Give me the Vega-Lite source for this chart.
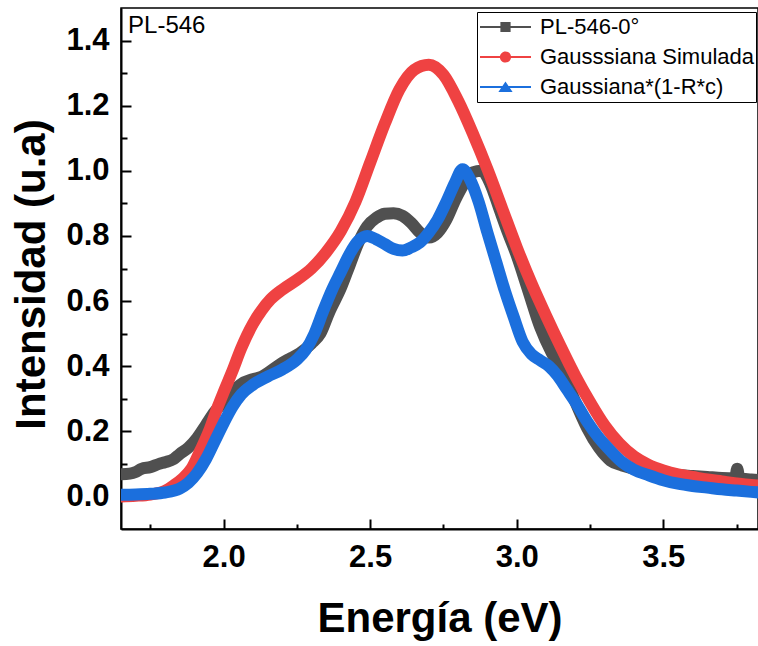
{
  "$schema": "https://vega.github.io/schema/vega-lite/v6.json",
  "autosize": {"type": "none"},
  "padding": {"left": 121, "top": 8, "right": 0, "bottom": 117},
  "width": 637,
  "height": 521,
  "background": "white",
  "config": {
    "view": {"stroke": "black", "strokeWidth": 1.5},
    "font": "Liberation Sans",
    "axis": {"grid": false, "domainColor": "black", "domainWidth": 2, "tickColor": "black", "tickWidth": 2, "zindex": 1},
    "legend": {
      "orient": "none", "legendX": 356, "legendY": 4, "direction": "vertical", "title": null,
      "labelFont": "Liberation Sans", "labelFontSize": 22, "labelColor": "black", "labelLimit": 400,
      "symbolSize": 2600, "clipHeight": 28, "padding": 1, "strokeColor": "black", "fillColor": "white",
      "symbolStrokeWidth": 0, "symbolOffset": 2, "labelOffset": 9
    }
  },
  "data": {"values": [
    {"s":"PL-546-0°","E":1.65,"I":0.068},{"s":"PL-546-0°","E":1.68,"I":0.07},{"s":"PL-546-0°","E":1.70,"I":0.075},{"s":"PL-546-0°","E":1.72,"I":0.085},{"s":"PL-546-0°","E":1.75,"I":0.09},{"s":"PL-546-0°","E":1.78,"I":0.10},{"s":"PL-546-0°","E":1.80,"I":0.105},{"s":"PL-546-0°","E":1.83,"I":0.115},{"s":"PL-546-0°","E":1.85,"I":0.13},{"s":"PL-546-0°","E":1.88,"I":0.15},{"s":"PL-546-0°","E":1.91,"I":0.18},{"s":"PL-546-0°","E":1.94,"I":0.22},{"s":"PL-546-0°","E":1.97,"I":0.26},{"s":"PL-546-0°","E":2.00,"I":0.29},{"s":"PL-546-0°","E":2.03,"I":0.32},{"s":"PL-546-0°","E":2.06,"I":0.345},{"s":"PL-546-0°","E":2.10,"I":0.36},{"s":"PL-546-0°","E":2.13,"I":0.368},{"s":"PL-546-0°","E":2.16,"I":0.385},{"s":"PL-546-0°","E":2.20,"I":0.41},{"s":"PL-546-0°","E":2.23,"I":0.425},{"s":"PL-546-0°","E":2.26,"I":0.44},{"s":"PL-546-0°","E":2.30,"I":0.47},{"s":"PL-546-0°","E":2.33,"I":0.50},{"s":"PL-546-0°","E":2.36,"I":0.565},{"s":"PL-546-0°","E":2.40,"I":0.64},{"s":"PL-546-0°","E":2.43,"I":0.71},{"s":"PL-546-0°","E":2.46,"I":0.78},{"s":"PL-546-0°","E":2.49,"I":0.83},{"s":"PL-546-0°","E":2.52,"I":0.855},{"s":"PL-546-0°","E":2.55,"I":0.868},{"s":"PL-546-0°","E":2.58,"I":0.87},{"s":"PL-546-0°","E":2.61,"I":0.862},{"s":"PL-546-0°","E":2.64,"I":0.84},{"s":"PL-546-0°","E":2.67,"I":0.81},{"s":"PL-546-0°","E":2.70,"I":0.795},{"s":"PL-546-0°","E":2.73,"I":0.81},{"s":"PL-546-0°","E":2.76,"I":0.85},{"s":"PL-546-0°","E":2.79,"I":0.91},{"s":"PL-546-0°","E":2.82,"I":0.96},{"s":"PL-546-0°","E":2.85,"I":0.995},{"s":"PL-546-0°","E":2.88,"I":1.0},{"s":"PL-546-0°","E":2.91,"I":0.96},{"s":"PL-546-0°","E":2.94,"I":0.885},{"s":"PL-546-0°","E":2.97,"I":0.81},{"s":"PL-546-0°","E":3.00,"I":0.74},{"s":"PL-546-0°","E":3.04,"I":0.63},{"s":"PL-546-0°","E":3.08,"I":0.52},{"s":"PL-546-0°","E":3.12,"I":0.44},{"s":"PL-546-0°","E":3.16,"I":0.38},{"s":"PL-546-0°","E":3.20,"I":0.29},{"s":"PL-546-0°","E":3.24,"I":0.21},{"s":"PL-546-0°","E":3.28,"I":0.15},{"s":"PL-546-0°","E":3.32,"I":0.11},{"s":"PL-546-0°","E":3.36,"I":0.095},{"s":"PL-546-0°","E":3.40,"I":0.085},{"s":"PL-546-0°","E":3.45,"I":0.075},{"s":"PL-546-0°","E":3.50,"I":0.07},{"s":"PL-546-0°","E":3.55,"I":0.066},{"s":"PL-546-0°","E":3.60,"I":0.063},{"s":"PL-546-0°","E":3.65,"I":0.06},{"s":"PL-546-0°","E":3.70,"I":0.057},{"s":"PL-546-0°","E":3.745,"I":0.056},{"s":"PL-546-0°","E":3.752,"I":0.085},{"s":"PL-546-0°","E":3.76,"I":0.055},{"s":"PL-546-0°","E":3.80,"I":0.052},{"s":"PL-546-0°","E":3.83,"I":0.05},

    {"s":"Gausssiana Simulada","E":1.65,"I":0.0},{"s":"Gausssiana Simulada","E":1.70,"I":0.002},{"s":"Gausssiana Simulada","E":1.75,"I":0.006},{"s":"Gausssiana Simulada","E":1.80,"I":0.017},{"s":"Gausssiana Simulada","E":1.83,"I":0.034},{"s":"Gausssiana Simulada","E":1.86,"I":0.055},{"s":"Gausssiana Simulada","E":1.89,"I":0.085},{"s":"Gausssiana Simulada","E":1.92,"I":0.14},{"s":"Gausssiana Simulada","E":1.95,"I":0.20},{"s":"Gausssiana Simulada","E":1.98,"I":0.275},{"s":"Gausssiana Simulada","E":2.00,"I":0.32},{"s":"Gausssiana Simulada","E":2.03,"I":0.385},{"s":"Gausssiana Simulada","E":2.06,"I":0.455},{"s":"Gausssiana Simulada","E":2.10,"I":0.53},{"s":"Gausssiana Simulada","E":2.13,"I":0.572},{"s":"Gausssiana Simulada","E":2.16,"I":0.605},{"s":"Gausssiana Simulada","E":2.20,"I":0.635},{"s":"Gausssiana Simulada","E":2.25,"I":0.665},{"s":"Gausssiana Simulada","E":2.30,"I":0.70},{"s":"Gausssiana Simulada","E":2.35,"I":0.75},{"s":"Gausssiana Simulada","E":2.40,"I":0.815},{"s":"Gausssiana Simulada","E":2.45,"I":0.905},{"s":"Gausssiana Simulada","E":2.50,"I":1.025},{"s":"Gausssiana Simulada","E":2.55,"I":1.145},{"s":"Gausssiana Simulada","E":2.60,"I":1.25},{"s":"Gausssiana Simulada","E":2.65,"I":1.31},{"s":"Gausssiana Simulada","E":2.70,"I":1.326},{"s":"Gausssiana Simulada","E":2.75,"I":1.295},{"s":"Gausssiana Simulada","E":2.80,"I":1.215},{"s":"Gausssiana Simulada","E":2.85,"I":1.115},{"s":"Gausssiana Simulada","E":2.90,"I":1.005},{"s":"Gausssiana Simulada","E":2.95,"I":0.885},{"s":"Gausssiana Simulada","E":3.00,"I":0.765},{"s":"Gausssiana Simulada","E":3.05,"I":0.655},{"s":"Gausssiana Simulada","E":3.10,"I":0.555},{"s":"Gausssiana Simulada","E":3.15,"I":0.46},{"s":"Gausssiana Simulada","E":3.20,"I":0.37},{"s":"Gausssiana Simulada","E":3.25,"I":0.29},{"s":"Gausssiana Simulada","E":3.30,"I":0.218},{"s":"Gausssiana Simulada","E":3.35,"I":0.163},{"s":"Gausssiana Simulada","E":3.40,"I":0.123},{"s":"Gausssiana Simulada","E":3.45,"I":0.097},{"s":"Gausssiana Simulada","E":3.50,"I":0.08},{"s":"Gausssiana Simulada","E":3.55,"I":0.068},{"s":"Gausssiana Simulada","E":3.60,"I":0.06},{"s":"Gausssiana Simulada","E":3.65,"I":0.052},{"s":"Gausssiana Simulada","E":3.70,"I":0.046},{"s":"Gausssiana Simulada","E":3.75,"I":0.04},{"s":"Gausssiana Simulada","E":3.80,"I":0.035},{"s":"Gausssiana Simulada","E":3.83,"I":0.033},

    {"s":"Gaussiana*(1-R*c)","E":1.65,"I":0.005},{"s":"Gaussiana*(1-R*c)","E":1.70,"I":0.006},{"s":"Gaussiana*(1-R*c)","E":1.75,"I":0.008},{"s":"Gaussiana*(1-R*c)","E":1.80,"I":0.012},{"s":"Gaussiana*(1-R*c)","E":1.85,"I":0.024},{"s":"Gaussiana*(1-R*c)","E":1.88,"I":0.042},{"s":"Gaussiana*(1-R*c)","E":1.91,"I":0.072},{"s":"Gaussiana*(1-R*c)","E":1.94,"I":0.115},{"s":"Gaussiana*(1-R*c)","E":1.97,"I":0.17},{"s":"Gaussiana*(1-R*c)","E":2.00,"I":0.225},{"s":"Gaussiana*(1-R*c)","E":2.03,"I":0.275},{"s":"Gaussiana*(1-R*c)","E":2.06,"I":0.313},{"s":"Gaussiana*(1-R*c)","E":2.10,"I":0.343},{"s":"Gaussiana*(1-R*c)","E":2.15,"I":0.368},{"s":"Gaussiana*(1-R*c)","E":2.20,"I":0.39},{"s":"Gaussiana*(1-R*c)","E":2.25,"I":0.42},{"s":"Gaussiana*(1-R*c)","E":2.28,"I":0.45},{"s":"Gaussiana*(1-R*c)","E":2.31,"I":0.50},{"s":"Gaussiana*(1-R*c)","E":2.34,"I":0.57},{"s":"Gaussiana*(1-R*c)","E":2.37,"I":0.635},{"s":"Gaussiana*(1-R*c)","E":2.40,"I":0.69},{"s":"Gaussiana*(1-R*c)","E":2.43,"I":0.745},{"s":"Gaussiana*(1-R*c)","E":2.46,"I":0.785},{"s":"Gaussiana*(1-R*c)","E":2.49,"I":0.80},{"s":"Gaussiana*(1-R*c)","E":2.52,"I":0.79},{"s":"Gaussiana*(1-R*c)","E":2.55,"I":0.775},{"s":"Gaussiana*(1-R*c)","E":2.58,"I":0.76},{"s":"Gaussiana*(1-R*c)","E":2.61,"I":0.755},{"s":"Gaussiana*(1-R*c)","E":2.64,"I":0.765},{"s":"Gaussiana*(1-R*c)","E":2.67,"I":0.78},{"s":"Gaussiana*(1-R*c)","E":2.70,"I":0.81},{"s":"Gaussiana*(1-R*c)","E":2.73,"I":0.85},{"s":"Gaussiana*(1-R*c)","E":2.76,"I":0.905},{"s":"Gaussiana*(1-R*c)","E":2.79,"I":0.965},{"s":"Gaussiana*(1-R*c)","E":2.815,"I":1.005},{"s":"Gaussiana*(1-R*c)","E":2.84,"I":0.975},{"s":"Gaussiana*(1-R*c)","E":2.87,"I":0.905},{"s":"Gaussiana*(1-R*c)","E":2.90,"I":0.81},{"s":"Gaussiana*(1-R*c)","E":2.93,"I":0.72},{"s":"Gaussiana*(1-R*c)","E":2.96,"I":0.63},{"s":"Gaussiana*(1-R*c)","E":2.99,"I":0.55},{"s":"Gaussiana*(1-R*c)","E":3.02,"I":0.475},{"s":"Gaussiana*(1-R*c)","E":3.05,"I":0.437},{"s":"Gaussiana*(1-R*c)","E":3.08,"I":0.418},{"s":"Gaussiana*(1-R*c)","E":3.11,"I":0.40},{"s":"Gaussiana*(1-R*c)","E":3.14,"I":0.37},{"s":"Gaussiana*(1-R*c)","E":3.17,"I":0.33},{"s":"Gaussiana*(1-R*c)","E":3.20,"I":0.29},{"s":"Gaussiana*(1-R*c)","E":3.24,"I":0.23},{"s":"Gaussiana*(1-R*c)","E":3.28,"I":0.18},{"s":"Gaussiana*(1-R*c)","E":3.32,"I":0.14},{"s":"Gaussiana*(1-R*c)","E":3.36,"I":0.105},{"s":"Gaussiana*(1-R*c)","E":3.40,"I":0.082},{"s":"Gaussiana*(1-R*c)","E":3.45,"I":0.065},{"s":"Gaussiana*(1-R*c)","E":3.50,"I":0.05},{"s":"Gaussiana*(1-R*c)","E":3.55,"I":0.039},{"s":"Gaussiana*(1-R*c)","E":3.60,"I":0.032},{"s":"Gaussiana*(1-R*c)","E":3.65,"I":0.027},{"s":"Gaussiana*(1-R*c)","E":3.70,"I":0.022},{"s":"Gaussiana*(1-R*c)","E":3.75,"I":0.018},{"s":"Gaussiana*(1-R*c)","E":3.80,"I":0.014},{"s":"Gaussiana*(1-R*c)","E":3.83,"I":0.012}
  ]},
  "resolve": {"axis": {"x": "independent", "y": "independent"}},
  "layer": [
    {
      "transform": [{"filter": {"field": "s", "equal": "PL-546-0°"}}],
      "mark": {"type": "line", "color": "#505050", "strokeWidth": 12, "strokeJoin": "round", "strokeCap": "round", "interpolate": "monotone", "clip": true},
      "encoding": {
        "x": {"field": "E", "type": "quantitative", "scale": {"domain": [1.65, 3.823], "nice": false, "zero": false},
          "axis": {"orient": "bottom", "title": "Energía (eV)", "values": [2.0, 2.5, 3.0, 3.5], "format": ".1f",
            "labelFont": "Liberation Sans", "labelFontSize": 31, "labelFontWeight": "bold", "labelColor": "black",
            "tickSize": -10, "labelPadding": 23, "labelFlush": false,
            "titleFont": "Liberation Sans", "titleFontSize": 42, "titleFontWeight": "bold", "titleColor": "black", "titlePadding": 26}},
        "y": {"field": "I", "type": "quantitative", "scale": {"domain": [-0.1, 1.5], "nice": false, "zero": false},
          "axis": {"orient": "left", "title": "Intensidad (u.a)", "values": [0, 0.2, 0.4, 0.6, 0.8, 1.0, 1.2, 1.4], "format": ".1f",
            "labelFont": "Liberation Sans", "labelFontSize": 31, "labelFontWeight": "bold", "labelColor": "black",
            "tickSize": -10, "labelPadding": 22, "labelFlush": false,
            "titleFont": "Liberation Sans", "titleFontSize": 42, "titleFontWeight": "bold", "titleColor": "black", "titlePadding": 12, "titleY": 266}}
      }
    },
    {
      "transform": [{"filter": {"field": "s", "equal": "Gausssiana Simulada"}}],
      "mark": {"type": "line", "color": "#EF4242", "strokeWidth": 12, "strokeJoin": "round", "strokeCap": "round", "interpolate": "monotone", "clip": true},
      "encoding": {
        "x": {"field": "E", "type": "quantitative",
          "axis": {"orient": "bottom", "title": null, "labels": false, "domain": false, "values": [1.75, 2.25, 2.75, 3.25, 3.75], "tickSize": -5}},
        "y": {"field": "I", "type": "quantitative",
          "axis": {"orient": "left", "title": null, "labels": false, "domain": false, "values": [0.1, 0.3, 0.5, 0.7, 0.9, 1.1, 1.3], "tickSize": -6}}
      }
    },
    {
      "transform": [{"filter": {"field": "s", "equal": "Gaussiana*(1-R*c)"}}],
      "mark": {"type": "line", "color": "#1B6FDD", "strokeWidth": 12, "strokeJoin": "round", "strokeCap": "round", "interpolate": "monotone", "clip": true},
      "encoding": {
        "x": {"field": "E", "type": "quantitative", "axis": null},
        "y": {"field": "I", "type": "quantitative", "axis": null}
      }
    },
    {
      "transform": [{"filter": {"field": "E", "lt": 0}}],
      "mark": {"type": "point", "filled": true, "opacity": 1},
      "encoding": {
        "x": {"field": "E", "type": "quantitative", "axis": null},
        "y": {"field": "I", "type": "quantitative", "axis": null},
        "color": {"field": "s", "type": "nominal",
          "scale": {"domain": ["PL-546-0°", "Gausssiana Simulada", "Gaussiana*(1-R*c)"], "range": ["#505050", "#EF4242", "#1B6FDD"]}},
        "shape": {"field": "s", "type": "nominal",
          "scale": {"domain": ["PL-546-0°", "Gausssiana Simulada", "Gaussiana*(1-R*c)"],
            "range": [
              "M-1,-0.04L1,-0.04L1,0.04L-1,0.04Z M-0.2,-0.2L0.2,-0.2L0.2,0.2L-0.2,0.2Z",
              "M-1,-0.04L1,-0.04L1,0.04L-1,0.04Z M0.22,0A0.22,0.22,0,1,1,-0.22,0A0.22,0.22,0,1,1,0.22,0Z",
              "M-1,-0.04L1,-0.04L1,0.04L-1,0.04Z M0,-0.22L0.28,0.2L-0.28,0.2Z"
            ]}}
      }
    },
    {
      "data": {"values": [{"label": "PL-546"}]},
      "mark": {"type": "text", "font": "Liberation Sans", "fontSize": 24, "color": "black", "align": "left", "baseline": "alphabetic"},
      "encoding": {
        "text": {"field": "label", "type": "nominal"},
        "x": {"datum": 1.674, "type": "quantitative", "axis": null},
        "y": {"datum": 1.424, "type": "quantitative", "axis": null}
      }
    }
  ]
}
